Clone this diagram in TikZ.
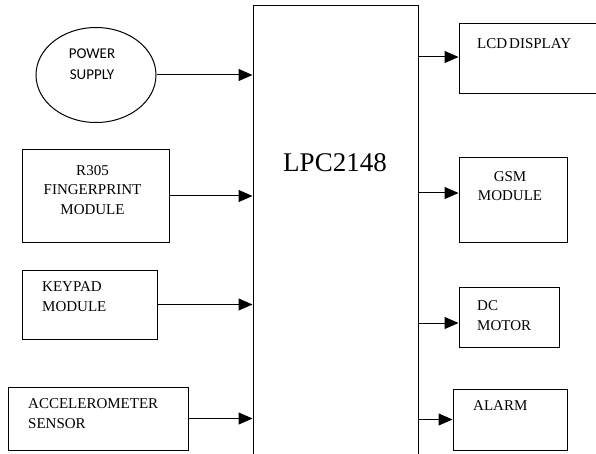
\documentclass[tikz,border=0pt]{standalone}
\usepackage{fontspec}
\setmainfont{Liberation Serif}
\newfontfamily\psfont{Carlito}
\usetikzlibrary{arrows.meta,shapes.geometric}
\tikzset{
  blk/.style={draw,line width=1pt,inner sep=0pt},
  txt/.style={inner sep=0pt,font=\fontsize{15}{19.5}\selectfont},
  arr/.style={line width=1pt,-{Triangle[length=14pt,width=12pt]}}
}

\begin{document}
\begin{tikzpicture}[x=1pt,y=-1pt]
  \useasboundingbox (0,0) rectangle (596,454);
  \node[blk,minimum width=165pt,minimum height=474pt] (lpc) at (335.5,243) {};
  \node[txt,font=\fontsize{27}{30}\selectfont] (lpctxt) at (335,163) {LPC2148};
  \node[blk,ellipse,minimum width=120pt,minimum height=95pt] (power) at (96,75) {};
  \node[txt,align=center,font=\psfont\fontsize{15}{21}\selectfont] (powertxt) at (92,64.5) {POWER\\SUPPLY};
  \node[blk,minimum width=147pt,minimum height=92pt] (finger) at (95.5,196) {};
  \node[txt,align=center] (fingertxt) at (92.5,190) {R305\\FINGERPRINT\\MODULE};
  \node[blk,minimum width=135pt,minimum height=69pt] (keypad) at (89.5,304.5) {};
  \node[txt,align=left,anchor=west] (keypadtxt) at (42,296.5) {KEYPAD\\MODULE};
  \node[blk,minimum width=180pt,minimum height=63pt] (accel) at (98,418.5) {};
  \node[txt,align=left,anchor=west] (acceltxt) at (28,413.5) {ACCELEROMETER\\SENSOR};
  \node[blk,minimum width=139pt,minimum height=70pt] (lcd) at (528.5,59) {};
  \node[txt,anchor=west] (lcdtxt) at (477,44) {LCD\kern2pt DISPLAY};
  \node[blk,minimum width=108pt,minimum height=84pt] (gsm) at (513,200) {};
  \node[txt,align=center] (gsmtxt) at (510,186) {GSM\\MODULE};
  \node[blk,minimum width=100pt,minimum height=60pt] (dc) at (509,317) {};
  \node[txt,align=left,anchor=west] (dctxt) at (477,315.5) {DC\\MOTOR};
  \node[blk,minimum width=114pt,minimum height=61pt] (alarm) at (510,419.5) {};
  \node[txt,anchor=west] (alarmtxt) at (473,406) {ALARM};
  \draw[arr] (power.east) -- (power.east -| lpc.west);
  \draw[arr] (finger.east) -- (finger.east -| lpc.west);
  \draw[arr] (keypad.east) -- (keypad.east -| lpc.west);
  \draw[arr] (accel.east) -- (accel.east -| lpc.west);
  \draw[arr] ([yshift=2pt]lcd.west -| lpc.east) -- ([yshift=2pt]lcd.west);
  \draw[arr] ([yshift=7pt]gsm.west -| lpc.east) -- ([yshift=7pt]gsm.west);
  \draw[arr] ([yshift=-6pt]dc.west -| lpc.east) -- ([yshift=-6pt]dc.west);
  \draw[arr] (alarm.west -| lpc.east) -- (alarm.west);
\end{tikzpicture}
\end{document}
